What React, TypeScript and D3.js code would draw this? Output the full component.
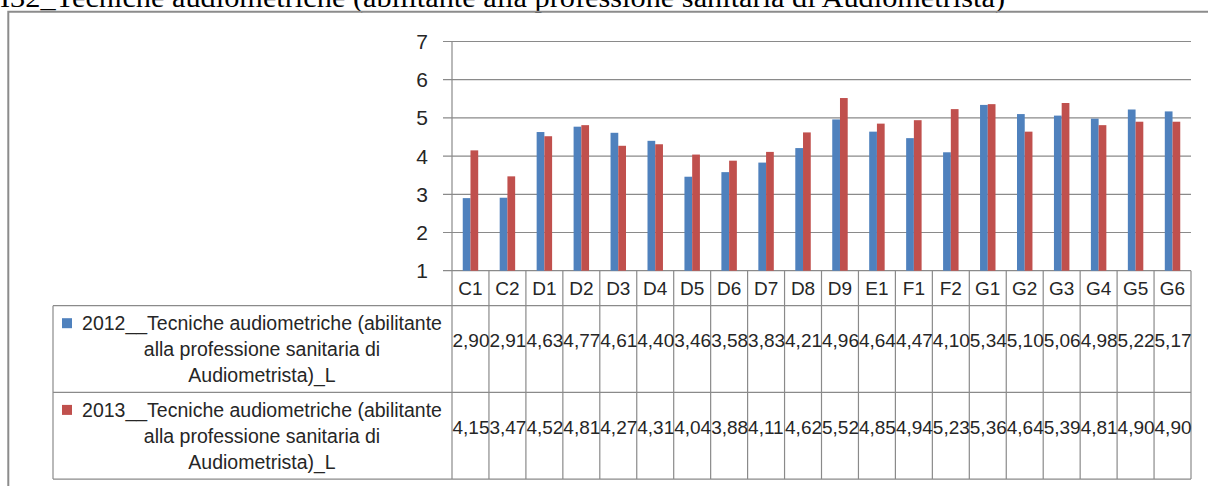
import * as d3 from 'd3';

const title = 'I32_Tecniche audiometriche (abilitante alla professione sanitaria di Audiometrista)';
const categories = ['C1', 'C2', 'D1', 'D2', 'D3', 'D4', 'D5', 'D6', 'D7', 'D8', 'D9', 'E1', 'F1', 'F2', 'G1', 'G2', 'G3', 'G4', 'G5', 'G6'];
const seriesNames = ['2012', '2013'];
const seriesLabel = ['__Tecniche audiometriche (abilitante', 'alla professione sanitaria di', 'Audiometrista)_L'];
const values2012 = [2.90, 2.91, 4.63, 4.77, 4.61, 4.40, 3.46, 3.58, 3.83, 4.21, 4.96, 4.64, 4.47, 4.10, 5.34, 5.10, 5.06, 4.98, 5.22, 5.17];
const values2013 = [4.15, 3.47, 4.52, 4.81, 4.27, 4.31, 4.04, 3.88, 4.11, 4.62, 5.52, 4.85, 4.94, 5.23, 5.36, 4.64, 5.39, 4.81, 4.90, 4.90];
const yTicks = [1, 2, 3, 4, 5, 6, 7];

const WIDTH = 1208;
const HEIGHT = 486;
const COLORS = ['#4F81BD', '#C0504D'];
const GRID = '#8a8a8a';
const TEXT = '#262626';
const FONT = '"Liberation Sans", Arial, sans-serif';

// plot box
const PLOT = { left: 452, right: 1191, top: 41.5, bottom: 270.7 };
const CAT_ROW_BOTTOM = 305.7;
const ROW_H = 86.7;
const TABLE_LEFT = 53;

export default function App() {
  const series = [values2012, values2013];

  const x = d3.scaleBand<string>().domain(categories).range([PLOT.left, PLOT.right]).padding(0);
  const xInner = d3
    .scaleBand<string>()
    .domain(seriesNames)
    .range([0, x.bandwidth()])
    .paddingInner(0)
    .paddingOuter(1.39);
  const y = d3.scaleLinear().domain([1, 7]).range([PLOT.bottom, PLOT.top]);

  const fmt = (v: number) => v.toFixed(2).replace('.', ',');
  const tableBottom = CAT_ROW_BOTTOM + ROW_H * 2;

  return (
    <svg
      width={WIDTH}
      height={HEIGHT}
      viewBox={`0 0 ${WIDTH} ${HEIGHT}`}
      style={{ position: 'absolute', left: 0, top: 0, background: '#fff' }}
    >
      {/* document title, clipped at top */}
      <text
        x={0}
        y={7}
        fontFamily='"Liberation Serif", "Times New Roman", serif'
        fontSize={27}
        textLength={1005}
        lengthAdjust="spacingAndGlyphs"
        fill="#000"
      >
        {title}
      </text>

      {/* chart frame */}
      <path d={`M8.3,${HEIGHT + 5} V11.7 H${WIDTH + 5}`} fill="none" stroke="#8c8c8c" strokeWidth={2} />

      {/* gridlines + ticks */}
      {yTicks.map((t) => (
        <g key={t}>
          <line x1={PLOT.left - 9} x2={PLOT.right} y1={y(t)} y2={y(t)} stroke={GRID} strokeWidth={1.2} />
          <text
            x={428}
            y={y(t)}
            dy="0.36em"
            textAnchor="end"
            fontFamily={FONT}
            fontSize={21}
            fill={TEXT}
          >
            {t}
          </text>
        </g>
      ))}

      {/* bars */}
      {series.map((vals, si) =>
        vals.map((v, i) => (
          <rect
            key={`${si}-${i}`}
            x={(x(categories[i]) ?? 0) + (xInner(seriesNames[si]) ?? 0)}
            y={y(v)}
            width={xInner.bandwidth()}
            height={y(1) - y(v)}
            fill={COLORS[si]}
          />
        ))
      )}

      {/* y axis */}
      <line x1={PLOT.left} x2={PLOT.left} y1={PLOT.top} y2={tableBottom} stroke={GRID} strokeWidth={1.2} />

      {/* data table grid */}
      {categories.map((c) => (
        <line
          key={`v-${c}`}
          x1={(x(c) ?? 0) + x.bandwidth()}
          x2={(x(c) ?? 0) + x.bandwidth()}
          y1={PLOT.bottom}
          y2={tableBottom}
          stroke={GRID}
          strokeWidth={1.2}
        />
      ))}
      {[0, 1, 2].map((r) => (
        <line
          key={`h-${r}`}
          x1={TABLE_LEFT}
          x2={PLOT.right}
          y1={CAT_ROW_BOTTOM + r * ROW_H}
          y2={CAT_ROW_BOTTOM + r * ROW_H}
          stroke={GRID}
          strokeWidth={1.2}
        />
      ))}
      <line x1={TABLE_LEFT} x2={TABLE_LEFT} y1={CAT_ROW_BOTTOM} y2={tableBottom} stroke={GRID} strokeWidth={1.2} />

      {/* category labels */}
      {categories.map((c) => (
        <text
          key={`c-${c}`}
          x={(x(c) ?? 0) + x.bandwidth() / 2}
          y={295}
          textAnchor="middle"
          fontFamily={FONT}
          fontSize={19}
          fill={TEXT}
        >
          {c}
        </text>
      ))}

      {/* legend cells + values */}
      {series.map((vals, si) => {
        const top = CAT_ROW_BOTTOM + si * ROW_H;
        const base = top + 24.5;
        return (
          <g key={`row-${si}`}>
            <rect x={62} y={base - 12} width={10} height={10} fill={COLORS[si]} />
            {seriesLabel.map((line, li) => (
              <text
                key={li}
                x={262}
                y={base + li * 26}
                textAnchor="middle"
                fontFamily={FONT}
                fontSize={19.5}
                fill={TEXT}
              >
                {li === 0 ? seriesNames[si] + line : line}
              </text>
            ))}
            {vals.map((v, i) => (
              <text
                key={`v-${i}`}
                x={(x(categories[i]) ?? 0) + 0.5}
                y={top + 41.5}
                fontFamily={FONT}
                fontSize={19}
                fill={TEXT}
              >
                {fmt(v)}
              </text>
            ))}
          </g>
        );
      })}
    </svg>
  );
}
